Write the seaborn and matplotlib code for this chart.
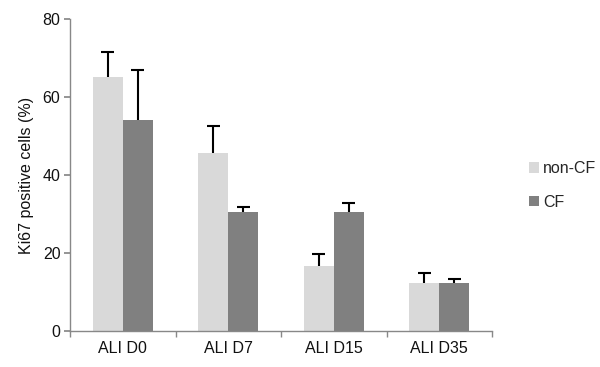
import matplotlib
matplotlib.use("Agg")
import matplotlib.pyplot as plt
import seaborn as sns
import pandas as pd
import numpy as np

categories = ["ALI D0", "ALI D7", "ALI D15", "ALI D35"]
groups = ["non-CF", "CF"]
noncf_vals = [65.3, 45.6, 16.7, 12.3]
noncf_err = [6.2, 6.9, 3.1, 2.6]
cf_vals = [54.2, 30.6, 30.6, 12.3]
cf_err = [12.7, 1.1, 2.3, 1.1]

df = pd.DataFrame({
    "cat": categories * 2,
    "group": [groups[0]] * 4 + [groups[1]] * 4,
    "val": noncf_vals + cf_vals,
})
errs = noncf_err + cf_err

sns.set_theme(style="white")
plt.rcParams["font.family"] = ["Liberation Sans", "DejaVu Sans"]

FS = 11.5
fig = plt.figure(figsize=(6, 3.67), dpi=100)
ax = fig.add_axes([0.117, 0.0985, 0.703, 0.849])
palette = {"non-CF": "#d9d9d9", "CF": "#808080"}
sns.barplot(data=df, x="cat", y="val", hue="group", palette=palette,
            errorbar=None, width=0.57, gap=0, saturation=1, ax=ax,
            order=categories, hue_order=groups, legend=True, linewidth=0)

patches = [p for p in ax.patches if p.get_height() > 0]
patches = sorted(patches, key=lambda p: p.get_x())
xs, ys, es = [], [], []
for i, e in enumerate(errs):
    gi = 0 if i < 4 else 1
    ci = i % 4
    p = patches[ci * 2 + gi]
    xs.append(p.get_x() + p.get_width() / 2)
    ys.append(p.get_height())
    es.append(e)
xs, ys, es = np.array(xs), np.array(ys), np.array(es)
half_cap = 0.062
ax.vlines(xs, ys, ys + es, colors="black", linewidth=1.5, zorder=3)
ax.hlines(ys + es, xs - half_cap, xs + half_cap, colors="black", linewidth=1.5, zorder=3)

ax.set_ylim(0, 80)
ax.set_xlim(-0.5, 3.5)
ax.set_yticks([0, 20, 40, 60, 80])
ax.set_xlabel("")
ax.set_ylabel("Ki67 positive cells (%)", fontsize=FS, color="#111111", labelpad=6)
for s in ["top", "right"]:
    ax.spines[s].set_visible(False)
for s in ["left", "bottom"]:
    ax.spines[s].set_color("#888888")
    ax.spines[s].set_linewidth(1.0)
ax.tick_params(axis="y", which="major", left=True, length=4, color="#888888",
               labelsize=FS, labelcolor="#111111", pad=3)
ax.tick_params(axis="x", which="major", length=0, labelsize=FS,
               labelcolor="#111111", pad=7)
ax.set_xticks([-0.5, 0.5, 1.5, 2.5, 3.5], minor=True)
ax.tick_params(axis="x", which="minor", bottom=True, length=4, color="#888888")

h, l = ax.get_legend_handles_labels()
ax.legend(h, l, loc="center left", bbox_to_anchor=(0.882, 0.495),
          bbox_transform=fig.transFigure, frameon=False, fontsize=FS,
          handlelength=0.6, handleheight=0.6, handletextpad=0.25,
          labelspacing=1.15, borderpad=0, borderaxespad=0)

fig.savefig("out.png", dpi=100)
